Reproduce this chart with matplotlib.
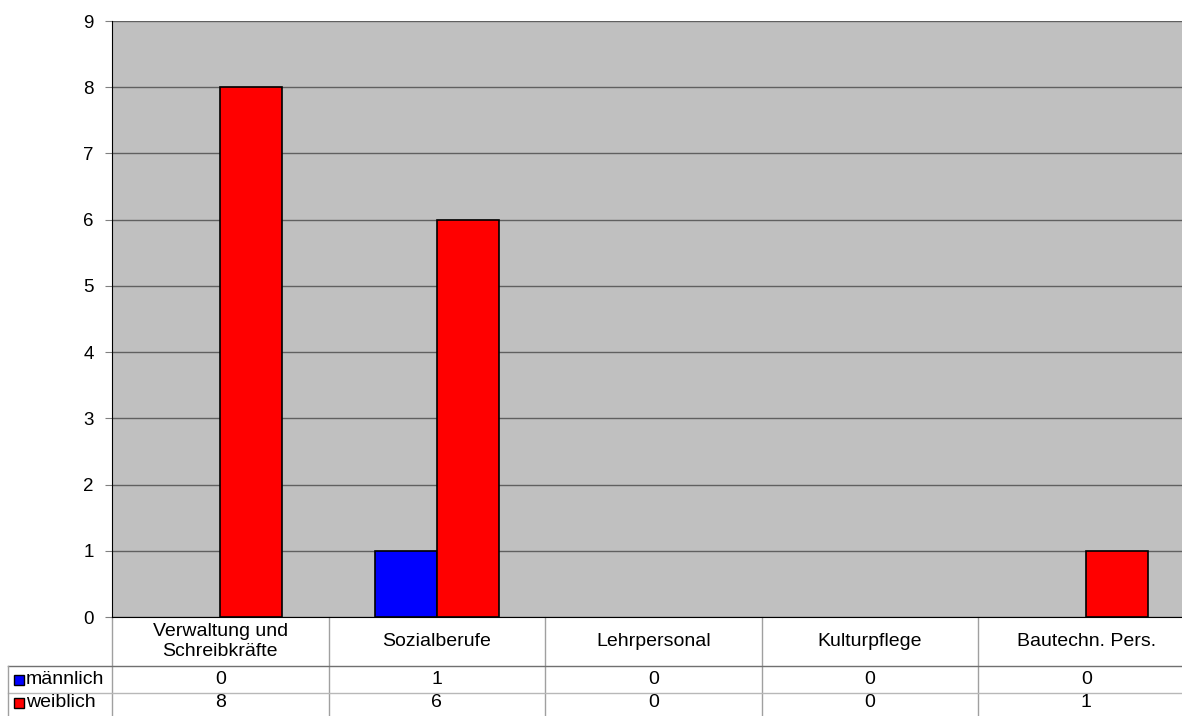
from matplotlib import pyplot as plt
from matplotlib.transforms import blended_transform_factory
import numpy as np

plt.rcParams['font.family'] = ['Liberation Sans', 'DejaVu Sans']

kategorien = ['Verwaltung und\nSchreibkräfte', 'Sozialberufe', 'Lehrpersonal', 'Kulturpflege', 'Bautechn. Pers.']
maennlich = [0, 1, 0, 0, 0]
weiblich = [8, 6, 0, 0, 1]
serien = ['männlich', 'weiblich']
farben = ['#0000ff', '#ff0000']

fig = plt.figure(figsize=(11.82, 7.16), dpi=100)
breite = 1082.5
ax = fig.add_axes([112/1182, 99/716, breite/1182, 596/716])
ax.set_facecolor('#c0c0c0')

x = np.arange(len(kategorien))
b = 0.286
lw_m = [1.2 if v > 0 else 0 for v in maennlich]
lw_w = [1.2 if v > 0 else 0 for v in weiblich]
ax.bar(x - b/2, maennlich, b, color=farben[0], edgecolor='black', linewidth=lw_m, zorder=3)
ax.bar(x + b/2, weiblich, b, color=farben[1], edgecolor='black', linewidth=lw_w, zorder=3)

ax.set_xlim(-0.5, len(kategorien) - 0.5)
ax.set_ylim(0, 9)
ax.set_yticks(range(10))
ax.yaxis.grid(True, color='#606060', linewidth=1, zorder=1)
ax.set_axisbelow(True)
ax.set_xticks([])
ax.tick_params(axis='y', labelsize=13.5, length=5, width=0.8, color='#808080', pad=8)
for s in ['top', 'right']:
    ax.spines[s].set_visible(False)
ax.spines['left'].set_color('black')
ax.spines['bottom'].set_color('black')

# Datentabelle unter dem Diagramm
tr = blended_transform_factory(ax.transData, ax.transAxes)
tr_ax = ax.transAxes
h = 596
y1 = -49/h
y2 = -76/h
y3 = -100/h
x_links = -104/breite
for i in range(len(kategorien) + 1):
    ax.plot([i - 0.5, i - 0.5], [0, y3], color='#a0a0a0', lw=1, transform=tr, clip_on=False)
ax.plot([x_links, 1], [y1, y1], color='#707070', lw=1, transform=tr_ax, clip_on=False)
ax.plot([x_links, 1], [y2, y2], color='#b8b8b8', lw=1, transform=tr_ax, clip_on=False)
ax.plot([x_links, x_links], [y1, y3], color='#a0a0a0', lw=1, transform=tr_ax, clip_on=False)

fs = 14
for i, k in enumerate(kategorien):
    ax.text(i, y1/2, k, ha='center', va='center', fontsize=fs, transform=tr, linespacing=1.2)
    ax.text(i, (y1 + y2)/2, str(maennlich[i]), ha='center', va='center', fontsize=fs, transform=tr)
    ax.text(i, (y2 + y3)/2 + 0.004, str(weiblich[i]), ha='center', va='center', fontsize=fs, transform=tr)

for j, (name, f) in enumerate(zip(serien, farben)):
    yy = (y1 + y2)/2 if j == 0 else (y2 + y3)/2 + 0.004
    ax.plot([x_links + 0.0105], [yy], marker='s', markersize=7.5, markerfacecolor=f,
            markeredgecolor='black', markeredgewidth=1, transform=tr_ax, clip_on=False)
    ax.text(x_links + 0.0168, yy, name, ha='left', va='center', fontsize=fs, transform=tr_ax)

fig.savefig('out.png', dpi=100)
